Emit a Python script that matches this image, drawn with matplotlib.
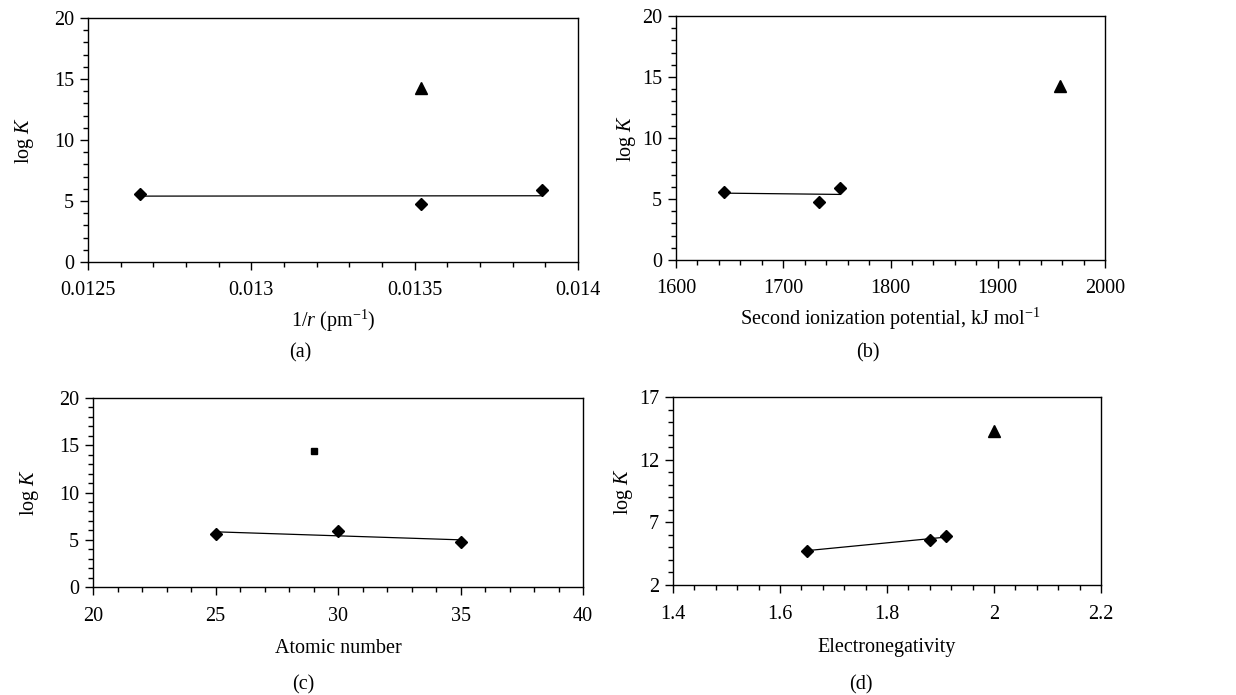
import matplotlib
matplotlib.use("Agg")
import matplotlib.pyplot as plt
from matplotlib.ticker import FixedLocator, MultipleLocator

plt.rcParams['font.family'] = ['Liberation Serif', 'DejaVu Serif']
plt.rcParams['mathtext.fontset'] = 'custom'
plt.rcParams['mathtext.rm'] = 'Liberation Serif'
plt.rcParams['mathtext.it'] = 'Liberation Serif:italic'
plt.rcParams['mathtext.default'] = 'regular'

# ---------------- data ----------------
# (a) 1/r
a_x = [0.01266, 0.01352, 0.01389]
a_y = [5.6, 4.75, 5.9]
a_out_x = [0.01352]
a_out_y = [14.3]
a_fit_x = [0.01266, 0.01389]
a_fit_y = [5.40, 5.43]
a_xticks = [0.0125, 0.013, 0.0135, 0.014]
a_xticklabels = ["0.0125", "0.013", "0.0135", "0.014"]

# (b) second ionization potential
b_x = [1645, 1733, 1753]
b_y = [5.6, 4.75, 5.9]
b_out_x = [1958]
b_out_y = [14.3]
b_fit_x = [1645, 1753]
b_fit_y = [5.48, 5.375]
b_xticks = [1600, 1700, 1800, 1900, 2000]
b_xticklabels = ["1600", "1700", "1800", "1900", "2000"]

# (c) atomic number
c_x = [25, 30, 35]
c_y = [5.6, 5.9, 4.75]
c_out_x = [29]
c_out_y = [14.4]
c_fit_x = [25, 35]
c_fit_y = [5.84, 4.99]
c_xticks = [20, 25, 30, 35, 40]
c_xticklabels = ["20", "25", "30", "35", "40"]

# (d) electronegativity
d_x = [1.65, 1.88, 1.91]
d_y = [4.75, 5.6, 5.9]
d_out_x = [2.0]
d_out_y = [14.3]
d_fit_x = [1.65, 1.91]
d_fit_y = [4.74, 5.82]
d_xticks = [1.4, 1.6, 1.8, 2.0, 2.2]
d_xticklabels = ["1.4", "1.6", "1.8", "2", "2.2"]

y_ticks_20 = [0, 5, 10, 15, 20]
y_ticks_17 = [2, 7, 12, 17]

# ---------------- figure ----------------
W, H = 1236, 695
fig = plt.figure(figsize=(W / 100, H / 100), dpi=100)


def box(l, r, t, b):
    return [l / W, 1 - b / H, (r - l) / W, (b - t) / H]


FS = 14.5


def style(ax, xlim, xticks, xlabels, xminor, ylim, yticks, yminor, xlabel, panel, panel_xy,
          ylabelx, xpad, xlabelpad):
    ax.set_xlim(*xlim)
    ax.set_ylim(*ylim)
    ax.xaxis.set_major_locator(FixedLocator(xticks))
    ax.set_xticklabels(xlabels)
    ax.xaxis.set_minor_locator(MultipleLocator(xminor))
    ax.yaxis.set_major_locator(FixedLocator(yticks))
    ax.yaxis.set_minor_locator(MultipleLocator(yminor))
    ax.tick_params(which='major', direction='out', length=6, width=1.0, labelsize=FS,
                   top=False, right=False)
    ax.tick_params(axis='x', which='major', pad=xpad)
    ax.tick_params(axis='y', which='major', pad=4)
    ax.tick_params(which='minor', direction='out', length=3.5, width=1.0, top=False, right=False)
    for s in ax.spines.values():
        s.set_linewidth(1.0)
    ax.set_xlabel(xlabel, fontsize=FS, labelpad=xlabelpad)
    ax.set_ylabel("log $\\mathit{K}$", fontsize=FS)
    ax.yaxis.set_label_coords(ylabelx, 0.5)
    fig.text(panel_xy[0] / W, 1 - panel_xy[1] / H, panel, fontsize=FS, ha='center', va='center')


mk = dict(color='black', linestyle='none')
line_kw = dict(color='black', linewidth=0.9)

# (a)
ax = fig.add_axes(box(88, 578, 18, 262))
ax.plot(a_fit_x, a_fit_y, **line_kw)
ax.plot(a_x, a_y, marker='D', markersize=6, **mk)
ax.plot(a_out_x, a_out_y, marker='^', markersize=8, **mk)
style(ax, (0.0125, 0.014), a_xticks, a_xticklabels, 0.0001, (0, 20), y_ticks_20, 1,
      "1/$\\mathit{r}$ (pm$^{-1}$)", "(a)", (300, 353), -0.106, 7.5, 6)

# (b)
ax = fig.add_axes(box(676, 1105, 16, 260))
ax.plot(b_fit_x, b_fit_y, **line_kw)
ax.plot(b_x, b_y, marker='D', markersize=6, **mk)
ax.plot(b_out_x, b_out_y, marker='^', markersize=8, **mk)
style(ax, (1600, 2000), b_xticks, b_xticklabels, 20, (0, 20), y_ticks_20, 1,
      "Second ionization potential, kJ mol$^{-1}$", "(b)", (868, 353), -0.088, 7.5, 6)

# (c)
ax = fig.add_axes(box(93, 583, 398, 587))
ax.plot(c_fit_x, c_fit_y, **line_kw)
ax.plot(c_x, c_y, marker='D', markersize=6, **mk)
ax.plot(c_out_x, c_out_y, marker='s', markersize=5, **mk)
style(ax, (20, 40), c_xticks, c_xticklabels, 1, (0, 20), y_ticks_20, 1,
      "Atomic number", "(c)", (303, 685), -0.106, 8.5, 9.5)

# (d)
ax = fig.add_axes(box(673, 1101, 397, 585))
ax.plot(d_fit_x, d_fit_y, **line_kw)
ax.plot(d_x, d_y, marker='D', markersize=6, **mk)
ax.plot(d_out_x, d_out_y, marker='^', markersize=8, **mk)
style(ax, (1.4, 2.2), d_xticks, d_xticklabels, 0.04, (2, 17), y_ticks_17, 1,
      "Electronegativity", "(d)", (861, 685), -0.088, 8.5, 10)

fig.savefig("out.png", dpi=100)
